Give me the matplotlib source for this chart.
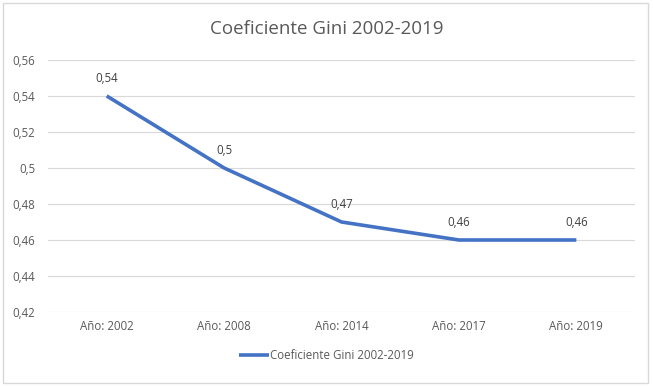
import matplotlib.pyplot as plt
import numpy as np

# datos del grafico
categorias = ["Año: 2002", "Año: 2008", "Año: 2014", "Año: 2017", "Año: 2019"]
gini = [0.54, 0.50, 0.47, 0.46, 0.46]
etiquetas = ["0,54", "0,5", "0,47", "0,46", "0,46"]
yticks = [0.42, 0.44, 0.46, 0.48, 0.50, 0.52, 0.54, 0.56]
ytick_labels = ["0,42", "0,44", "0,46", "0,48", "0,5", "0,52", "0,54", "0,56"]

gris = "#595959"
azul = "#4472C4"
plt.rcParams['font.family'] = ['Open Sans', 'DejaVu Sans']

fig = plt.figure(figsize=(6.53, 3.86), dpi=100)
ax = fig.add_axes([0.0735, 0.1917, 0.899, 0.653])

xs = np.arange(len(categorias))
ax.plot(xs, gini, color=azul, linewidth=2.6, solid_capstyle="butt",
        label="Coeficiente Gini 2002-2019")
for x, y, t in zip(xs, gini, etiquetas):
    ax.annotate(t, (x, y), xytext=(0, 8), textcoords="offset points",
                ha="center", va="bottom", fontsize=8.3, color="#404040")

ax.set_xlim(-0.5, len(categorias) - 0.5)
ax.set_ylim(0.42, 0.56)
ax.set_yticks(yticks)
ax.set_yticklabels(ytick_labels)
ax.set_xticks(xs)
ax.set_xticklabels(categorias)
ax.tick_params(axis="both", length=0, labelsize=8.3, colors=gris)
ax.tick_params(axis="x", pad=6)
ax.tick_params(axis="y", pad=9)
ax.grid(axis="y", color="#d9d9d9", linewidth=0.8)
ax.set_axisbelow(True)
for s in ax.spines.values():
    s.set_visible(False)

fig.text(0.5, 0.925, "Coeficiente Gini 2002-2019", ha="center", va="center",
         fontsize=13.5, color=gris)

leg = fig.legend(loc="center", bbox_to_anchor=(0.5, 0.08), frameon=False,
                 fontsize=8.3, handlelength=2.6, handletextpad=0.1)
for t in leg.get_texts():
    t.set_color(gris)

# borde del grafico
fig.patches.append(plt.Rectangle((0.005, 0.008), 0.988, 0.984, transform=fig.transFigure,
                                 fill=False, edgecolor="#d9d9d9", linewidth=1))

fig.savefig("out.png", dpi=100)
